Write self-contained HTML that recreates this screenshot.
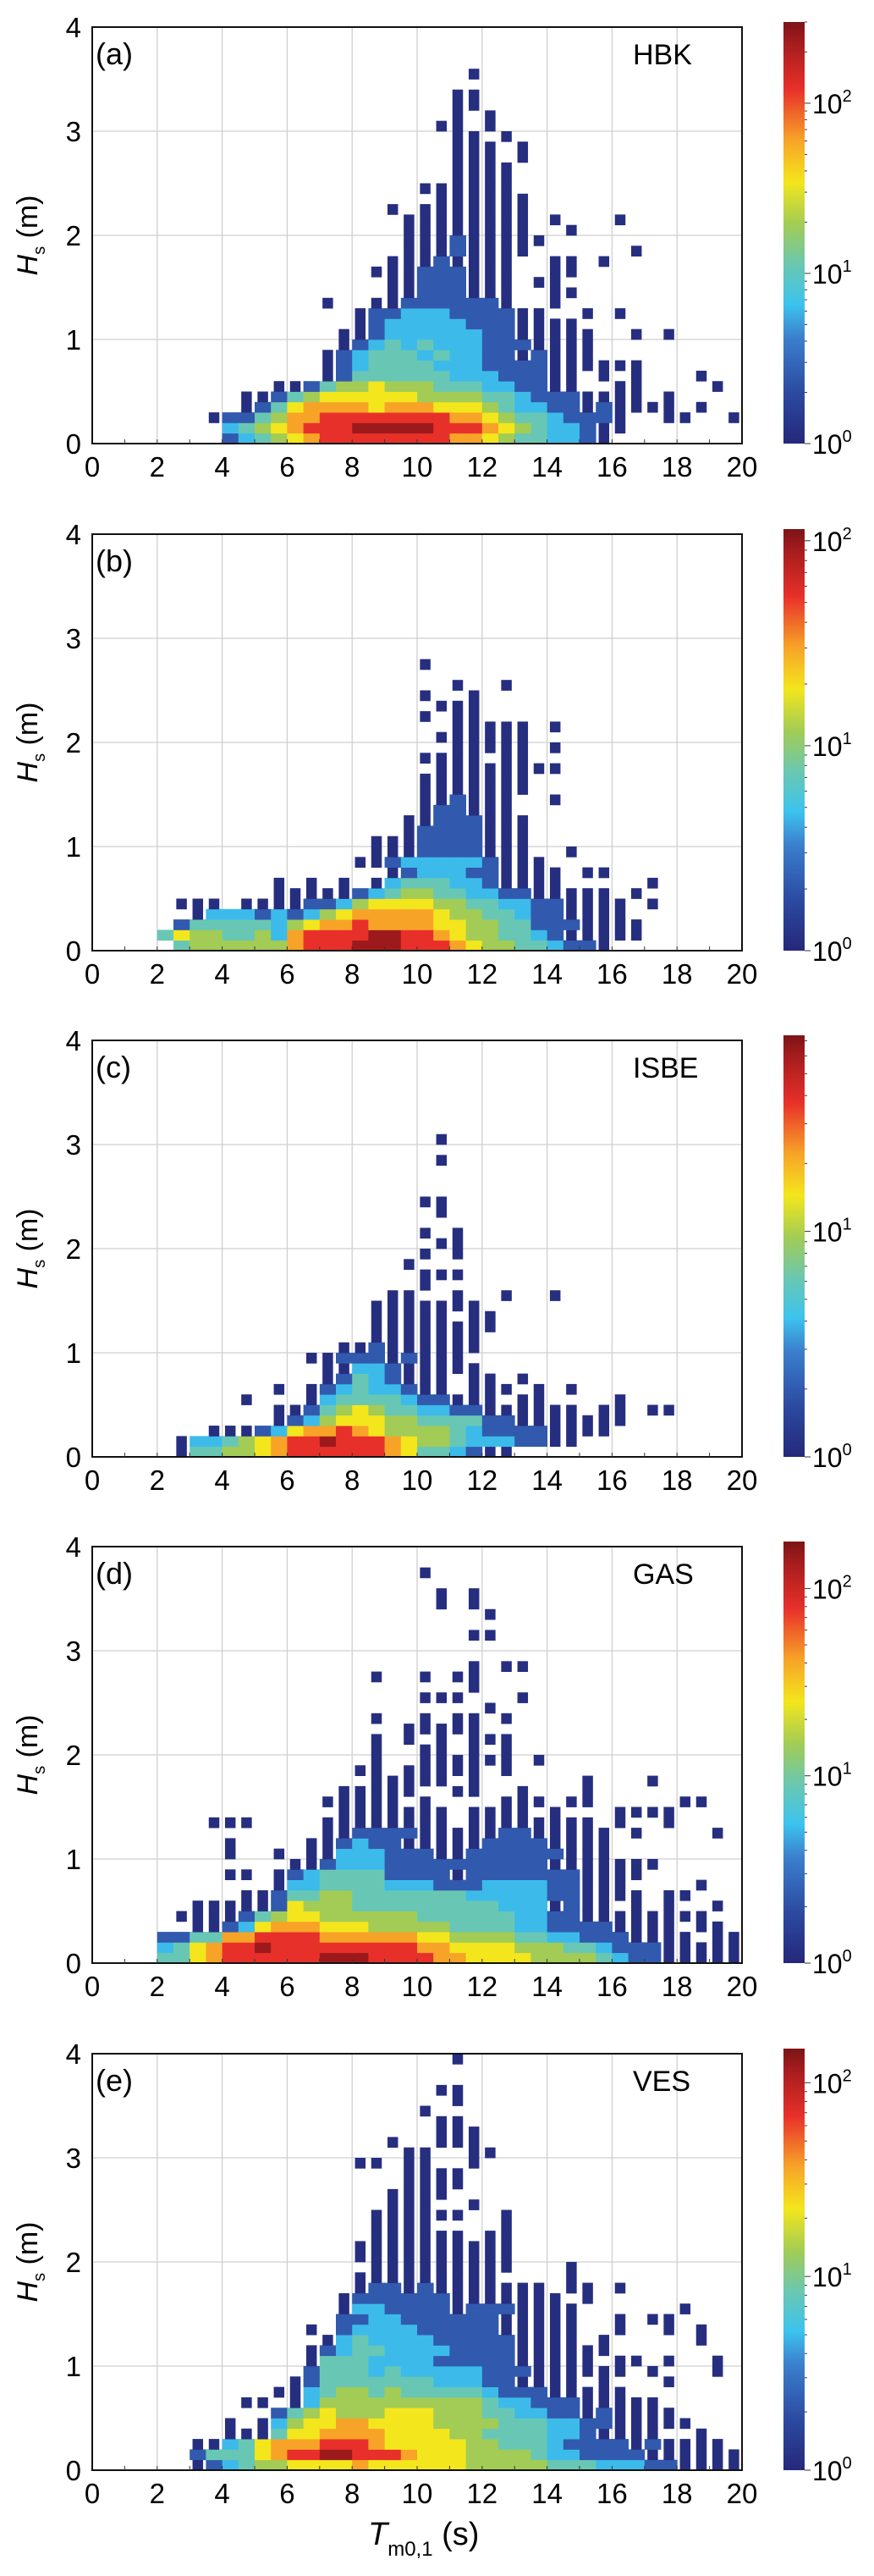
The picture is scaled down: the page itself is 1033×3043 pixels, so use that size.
<!DOCTYPE html>
<html><head><meta charset="utf-8">
<style>
html,body{margin:0;padding:0;background:#fff;}
svg{display:block;font-family:"Liberation Sans",Arial,sans-serif;}
</style></head>
<body>
<svg id="fig" width="1033" height="3043" viewBox="0 0 1033 3043" xmlns="http://www.w3.org/2000/svg">
<defs>
<linearGradient id="cbgrad" x1="0" y1="1" x2="0" y2="0">
<stop offset="0" stop-color="#25287a"/><stop offset="0.12" stop-color="#2c4aa0"/><stop offset="0.25" stop-color="#3b7fcc"/>
<stop offset="0.33" stop-color="#3cc3ee"/><stop offset="0.42" stop-color="#68c7b4"/><stop offset="0.52" stop-color="#a2cc55"/>
<stop offset="0.62" stop-color="#f3e61c"/><stop offset="0.72" stop-color="#f7a328"/><stop offset="0.84" stop-color="#e8302a"/>
<stop offset="0.95" stop-color="#a51c1e"/><stop offset="1" stop-color="#7c1416"/>
</linearGradient>
</defs>
</svg>
<script>
// ---- data ----
const panelLetters = ["(a)","(b)","(c)","(d)","(e)"];
const stationNames = ["HBK","","ISBE","GAS","VES"];
const colorbarMax = [300,114,74,178,150];
const xTicks = [0,2,4,6,8,10,12,14,16,18,20];
const yTicks = [0,1,2,3,4];
const binWidthT = 0.5;   // s
const binHeightH = 0.1;  // m
// Rows of binned count classes (1=lowest .. 9=highest), row index = Hs bin; "start:classes"
const rowsA = ["8:234567888888887765443321","8:3456788899999888765433211","7:12245778888888877654432221..11..1","9:124677776777666543322121111.1","9:1124566666655554432221111.1","11:1124556555444332211..11....1","14:1244444433322211.1.1...1","14:12344443332222111111","14:12344434332212111","15:1234343332221111","15:1123333332211111..1.1","16:12333332221111","16:122333222211..1.1","14:1..112222221..1","18:11222111..11","18:11222111.11","17:111222111..11","18:11121111..11.1","19:11121111......1","19:111211111","19:11111111..1","19:11111111.1...1","18:1.1111111","21:111111","20:111111","22:1111","22:1111","22:111.1","22:111.1","22:11.1","21:11.1","22:1.1","22:11","22:11","","23:1"];
const rowsB = ["5:455555578889998887655443221","4:465544537888899887655443211111","5:24444435677877776655442221111","6:133323235677777655443221111","5:111.111122356666554433221111.1","11:111112345544332211111.1","11:1.1.1.134443321111.....1","18:12333221111.11","16:112333332111","17:1112222111..1","17:1112222111","19:12222111","19:11222111","20:122111","20:112111..1","20:1111111","20:1111111","21:11111111","20:1111.11","22:11111.1","21:111111","22:11111.1","20:1.11","21:111","20:1..1","22:1..1","","20:1"];
const rowsC = ["5:144556788888876443211","5:1334567889888765543332211","7:1112367787655554322221111","11:1235666554444221111111","11:1124565443322111111.11.11","9:1...134444322111.11....1","11:1.123433211.111.1.1","14:12432111.11.1","14:1133211111","13:1122212111","15:112111111","17:1111111","17:11111111","17:11111.11","17:1111111","18:11..1..1..1","20:1","20:111","19:1","20:1.1","21:11","20:1.1","","21:1","20:11","","","","21:1","","21:1"];
const rowsD = ["4:446788888899988887766665555432211111","4:346788988888888877666655544322211111","4:224477888877777766555544332221111.11","6:112367776665555544443322221111.11","5:111124566555555444444332211111111","6:11111265554444444443331211.1.1..1","9:1124455444444433333221111.11","11:1334444333222333322111....1","8:11.12344442222122222221111","12:11233322222222221111111","8:1..1.1133322211222222111","8:1....1123221111122221111","14:112222111112211111.1....1","7:111....11111111.11111111.1..1","15:1111111.1111.1...1111","14:11111.1....111.11.....11","15:11111..11..1...1","17:11111.1......1...1","16:11.11111.1","17:1..111111.1","17:1..11.1.1","17:1.1.1.111","19:11111","17:1..1.11.1","24:1","20:111...1","23:1","17:1..1.11","23:1.11","","","23:11","","24:1","21:1.1","21:1.1","","20:1"];
const rowsE = ["6:1234556666766666655555444333221111","6:2444678899888766655554332222111111","6:113467778887666665544432222121111","8:111466777766665544443321111..1","8:1.135667766665555444332211111","11:2456555666555443322121111","9:11.13555555555543322211111","11:1134554544444322211111","12:124444444333221111.1...1","13:24443433333222111111.1...1","13:144433332222211111.11.1..1","13:1234433332222111111","14:1343333222221111.1.....1","13:1.233332222211111..1..1.1","15:223322222211111..1.11","15:133222212221111......1","15:12222221111111.1","16:122121111111.11.1","16:111111111....1","17:111111111...1","16:1111111111","16:1111111111","17:111111.11","17:1111....1","17:111111..1","18:111..1","18:1111","19:1111","19:1111","16:11.11..1","19:11..11","18:1..111","21:111","21:11","20:1","22:1","21:11","","","22:1"];
const panelRows = [rowsA,rowsB,rowsC,rowsD,rowsE];
const classT = [0,0.02,0.16,0.32,0.42,0.52,0.62,0.72,0.84,0.96];

// ---- layout ----
const SVGNS="http://www.w3.org/2000/svg";
const svg=document.getElementById('fig');
const plotTops=[32,631,1229,1827,2426];
const PX0=109, PX1=877, PH=492, XMAX=20, YMAX=4;
const classWidthFrac=[0,0.65,1,1,1,1,1,1,1,1];
const stops=[[0,"#25287a"],[0.12,"#2c4aa0"],[0.25,"#3b7fcc"],[0.33,"#3cc3ee"],[0.42,"#68c7b4"],[0.52,"#a2cc55"],[0.62,"#f3e61c"],[0.72,"#f7a328"],[0.84,"#e8302a"],[0.95,"#a51c1e"],[1,"#7c1416"]];
function hex(h){return [parseInt(h.substr(1,2),16),parseInt(h.substr(3,2),16),parseInt(h.substr(5,2),16)];}
function cmap(t){t=Math.max(0,Math.min(1,t));for(let i=1;i<stops.length;i++){if(t<=stops[i][0]){const a=hex(stops[i-1][1]),b=hex(stops[i][1]);const f=(t-stops[i-1][0])/(stops[i][0]-stops[i-1][0]);return "rgb("+a.map((v,k)=>Math.round(v+(b[k]-v)*f)).join(",")+")";}}return stops[stops.length-1][1];}
function mk(tag,attrs,parent){const e=document.createElementNS(SVGNS,tag);for(const k in attrs)e.setAttribute(k,attrs[k]);(parent||svg).appendChild(e);return e;}

panelRows.forEach((rows,p)=>{
  const top=plotTops[p], bot=top+PH;
  const xs=v=>PX0+v/XMAX*(PX1-PX0);
  const ys=v=>bot-v/YMAX*PH;
  const g=mk('g',{});
  
  
  xTicks.forEach(v=>{if(v>0&&v<XMAX){const l=mk('line',{x1:xs(v),x2:xs(v),y1:top,y2:bot,stroke:'#cfcfcf','stroke-width':1.3},g);}});
  yTicks.forEach(v=>{if(v>0&&v<YMAX){const l=mk('line',{x1:PX0,x2:PX1,y1:ys(v),y2:ys(v),stroke:'#cfcfcf','stroke-width':1.3},g);}});
  const hg=mk('g',{},g);
  
  
  rows.forEach((r,ri)=>{
    if(!r)return;
    const parts=r.split(':');const start=parseInt(parts[0]);const s=parts[1];
    for(let k=0;k<s.length;k++){
      const c=s[k];if(c==='.')continue;
      const lv=parseInt(c);
      const x0=xs((start+k)*binWidthT), x1=xs((start+k+1)*binWidthT);
      const w=(x1-x0)*classWidthFrac[lv];
      const xc=(x0+x1)/2;
      const y1=ys(ri*binHeightH), y0=ys((ri+1)*binHeightH);
      const rc=mk('rect',{x:xc-w/2,y:y0,width:w+(lv>1?0.4:0),height:y1-y0+0.4,fill:cmap(classT[lv])},hg);
      
      
    }
  });
  const fr=mk('rect',{x:PX0,y:top,width:PX1-PX0,height:PH,fill:'none',stroke:'#111','stroke-width':2},g);
  
  
  for(let v=1;v<XMAX;v++){mk('line',{x1:xs(v),x2:xs(v),y1:bot,y2:bot-5,stroke:'#333','stroke-width':1},g);}
  xTicks.forEach(v=>{const t=mk('text',{x:xs(v),y:bot+39,'font-size':33,'text-anchor':'middle',fill:'#000'},g);t.textContent=v;});
  yTicks.forEach(v=>{const t=mk('text',{x:96,y:ys(v)+12,'font-size':33,'text-anchor':'end',fill:'#000'},g);t.textContent=v;});
  const yt=mk('text',{x:0,y:0,'font-size':34,'text-anchor':'middle',transform:'translate(44,'+(top+PH/2)+') rotate(-90)'},g);
  
  
  yt.innerHTML='<tspan font-style="italic">H</tspan><tspan font-size="20" dy="9">s</tspan><tspan dy="-9"> (m)</tspan>';
  const pl=mk('text',{x:113,y:top+44,'font-size':36},g);pl.textContent=panelLetters[p];
  
  
  if(stationNames[p]){const sn=mk('text',{x:748,y:top+44,'font-size':34},g);sn.textContent=stationNames[p];
    
    }
  const cbTop=top-6, cbBot=bot, cbX=926, cbW=25;
  const cb=mk('rect',{x:cbX,y:cbTop,width:cbW,height:cbBot-cbTop,fill:'url(#cbgrad)'},g);
  
  
  const lm=Math.log10(colorbarMax[p]);
  const cy=v=>cbBot-(Math.log10(v)/lm)*(cbBot-cbTop);
  for(let d=0;d<=2;d++){
    for(let m=1;m<10;m++){const v=m*Math.pow(10,d);if(v>colorbarMax[p])break;
      mk('line',{x1:cbX+cbW,x2:cbX+cbW+(m===1?7:3),y1:cy(v),y2:cy(v),stroke:'#333','stroke-width':1},g);}
    const v=Math.pow(10,d);if(v>colorbarMax[p])break;
    const t=mk('text',{x:cbX+cbW+9,y:cy(v)+12,'font-size':32},g);
    t.innerHTML='10<tspan font-size="20" dy="-14">'+d+'</tspan>';
    
    
  }
});
const xt=mk('text',{x:435,y:3006,'font-size':38});


xt.innerHTML='<tspan font-style="italic">T</tspan><tspan font-size="24" dy="13">m0,1</tspan><tspan dy="-13"> (s)</tspan>';
</script>
</body></html>
